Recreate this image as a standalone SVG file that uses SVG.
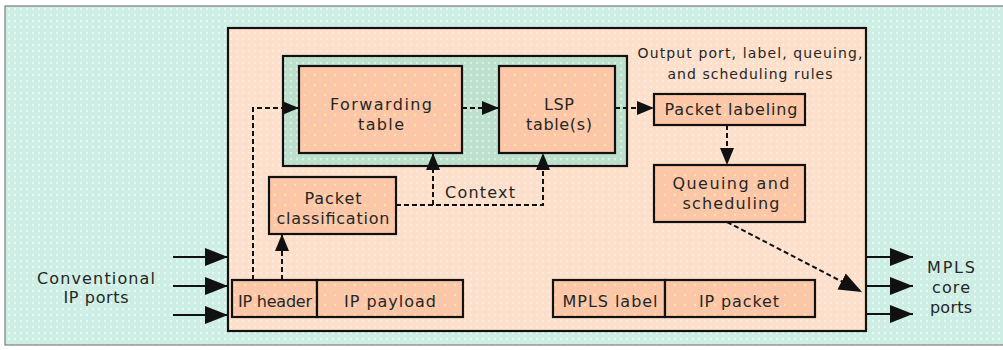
<svg xmlns="http://www.w3.org/2000/svg" width="1003" height="350" viewBox="0 0 1003 350">
<style>
.box{stroke:#111;stroke-width:2.2}
.sal{fill:url(#pSal)}
.ln{fill:none;stroke:#111;stroke-width:2}
.dash{stroke-dasharray:5,3}
text{font-family:"DejaVu Sans","Liberation Sans",sans-serif;fill:#262626;text-anchor:middle}
.t16{font-size:16px}
.t14{font-size:14px}
</style>
<defs>
<pattern id="pBg" width="6" height="6" patternUnits="userSpaceOnUse">
<rect width="6" height="6" fill="#cdeee4"/><circle cx="3" cy="3" r="1.2" fill="#eaf8f3"/>
</pattern>
<pattern id="pPeach" width="6" height="6" patternUnits="userSpaceOnUse">
<rect width="6" height="6" fill="#fde0cb"/><circle cx="3" cy="3" r="1.2" fill="#feecdf"/>
</pattern>
<pattern id="pSal" width="10" height="10" patternUnits="userSpaceOnUse">
<rect width="10" height="10" fill="#fbc7a8"/><circle cx="5" cy="5" r="1.2" fill="#fde7a0"/>
</pattern>
<pattern id="pGreen" width="6" height="6" patternUnits="userSpaceOnUse">
<rect width="6" height="6" fill="#bde0cd"/><circle cx="3" cy="3" r="1.2" fill="#d9efe3"/>
</pattern>
<marker id="aBig" markerUnits="userSpaceOnUse" markerWidth="26" markerHeight="20" refX="23" refY="10" orient="auto">
<path d="M0,1 L23,10 L0,19 z" fill="#111"/>
</marker>
<marker id="aSm" markerUnits="userSpaceOnUse" markerWidth="18" markerHeight="16" refX="17" refY="8" orient="auto">
<path d="M0,1 L17,8 L0,15 z" fill="#111"/>
</marker>
</defs>
<rect x="5" y="6" width="1000" height="339" fill="url(#pBg)" stroke="#666" stroke-width="1"/>
<g id="router">
<rect x="228" y="28" width="638" height="303" fill="url(#pPeach)" class="box"/>
</g>
<g id="tables-group">
<rect x="283" y="56" width="344" height="110" fill="url(#pGreen)" class="box"/>
</g>
<g id="forwarding-table">
<rect x="299" y="66" width="163" height="87" class="box sal"/>
<text class="t16" x="381" y="110" textLength="102" lengthAdjust="spacing">Forwarding</text>
<text class="t16" x="381" y="130" textLength="46" lengthAdjust="spacing">table</text>
</g>
<g id="lsp-table">
<rect x="499" y="66" width="116" height="87" class="box sal"/>
<text class="t16" x="559" y="110" textLength="30" lengthAdjust="spacing">LSP</text>
<text class="t16" x="559" y="130" textLength="66" lengthAdjust="spacing">table(s)</text>
</g>
<g id="rules-label">
<text class="t14" x="750" y="58" textLength="225" lengthAdjust="spacing">Output port, label, queuing,</text>
<text class="t14" x="750" y="79" textLength="165" lengthAdjust="spacing">and scheduling rules</text>
</g>
<g id="packet-labeling">
<rect x="654" y="94" width="151" height="31" class="box sal"/>
<text class="t16" x="731" y="115" textLength="133" lengthAdjust="spacing">Packet labeling</text>
</g>
<g id="queuing">
<rect x="654" y="165" width="151" height="57" class="box sal"/>
<text class="t16" x="731" y="189" textLength="117" lengthAdjust="spacing">Queuing and</text>
<text class="t16" x="731" y="209" textLength="97" lengthAdjust="spacing">scheduling</text>
</g>
<g id="packet-classification">
<rect x="269" y="177" width="127" height="57" class="box sal"/>
<text class="t16" x="333" y="204" textLength="57" lengthAdjust="spacing">Packet</text>
<text class="t16" x="333" y="224" textLength="113" lengthAdjust="spacing">classification</text>
</g>
<g id="context-label">
<text class="t16" x="480" y="198" textLength="70" lengthAdjust="spacing">Context</text>
</g>
<g id="ip-packet-in">
<rect x="232" y="280" width="85" height="37" class="box sal"/>
<rect x="317" y="280" width="146" height="37" class="box sal"/>
<text class="t16" x="275" y="307" textLength="74" lengthAdjust="spacing">IP header</text>
<text class="t16" x="390" y="307" textLength="92" lengthAdjust="spacing">IP payload</text>
</g>
<g id="mpls-packet-out">
<rect x="553" y="280" width="112" height="37" class="box sal"/>
<rect x="665" y="280" width="150" height="37" class="box sal"/>
<text class="t16" x="610" y="307" textLength="95" lengthAdjust="spacing">MPLS label</text>
<text class="t16" x="739" y="307" textLength="80" lengthAdjust="spacing">IP packet</text>
</g>
<g id="conventional-ports">
<text class="t16" x="96" y="284" textLength="118" lengthAdjust="spacing">Conventional</text>
<text class="t16" x="96" y="303" textLength="65" lengthAdjust="spacing">IP ports</text>
</g>
<g id="mpls-ports">
<text class="t16" x="951" y="273" textLength="48" lengthAdjust="spacing">MPLS</text>
<text class="t16" x="951" y="293" textLength="38" lengthAdjust="spacing">core</text>
<text class="t16" x="951" y="313" textLength="42" lengthAdjust="spacing">ports</text>
</g>
<g id="connectors">
<path class="ln" d="M173,257 H228" marker-end="url(#aBig)"/>
<path class="ln" d="M173,286 H228" marker-end="url(#aBig)"/>
<path class="ln" d="M173,315 H228" marker-end="url(#aBig)"/>
<path class="ln" d="M866,257 H913" marker-end="url(#aBig)"/>
<path class="ln" d="M866,286 H913" marker-end="url(#aBig)"/>
<path class="ln" d="M866,314 H913" marker-end="url(#aBig)"/>
<path class="ln dash" d="M253,280 V108 H299" marker-end="url(#aSm)"/>
<path class="ln dash" d="M462,108 H499" marker-end="url(#aSm)"/>
<path class="ln dash" d="M615,108 H654" marker-end="url(#aSm)"/>
<path class="ln dash" d="M727,125 V165" marker-end="url(#aSm)"/>
<path class="ln dash" d="M282,280 V234" marker-end="url(#aSm)"/>
<path class="ln dash" d="M396,205 H543 V153" marker-end="url(#aSm)"/>
<path class="ln dash" d="M433,205 V153" marker-end="url(#aSm)"/>
<path class="ln dash" d="M727,222 L862,292" marker-end="url(#aBig)"/>
</g>
</svg>
